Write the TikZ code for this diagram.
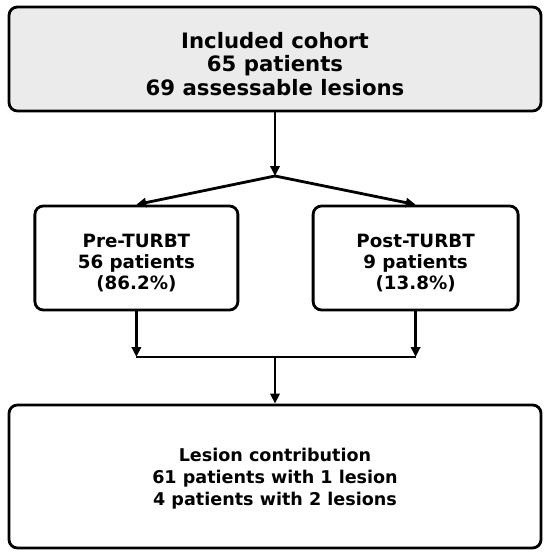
\documentclass[tikz,border=0pt]{standalone}
\usepackage{fontspec}
\setmainfont{DejaVu Sans}
\usetikzlibrary{arrows.meta,positioning,calc}

% zero-width strut that pushes the first line down a little
\newcommand{\boxdrop}[1]{\rule{0pt}{#1}}

\tikzset{
  flowbox/.style={draw=black, line width=2pt, rounded corners=6pt, align=center,
                  font=\bfseries\fontsize{13}{14.9}\selectfont, inner sep=0pt},
  flowarrow/.style={-{Triangle[length=7pt,width=6.5pt]}, line width=2pt},
  flowline/.style={line width=2pt}
}

\begin{document}
\begin{tikzpicture}
\useasboundingbox (0,0) rectangle (13.75,13.925);

\node[flowbox, fill=black!8, minimum width=13.3cm, minimum height=2.6cm,
      font=\bfseries\fontsize{15.1}{16.7}\selectfont]
  (cohort) at (6.875, 12.45) {\boxdrop{18.6pt}Included cohort\\65 patients\\69 assessable lesions};

\node[flowbox, minimum width=5.075cm, minimum height=2.6cm]
  (pre) at (3.41, 7.475) {\boxdrop{17pt}Pre-TURBT\\56 patients\\(86.2\%)};
\node[flowbox, minimum width=5.125cm, minimum height=2.6cm]
  (post) at (10.39, 7.475) {\boxdrop{17pt}Post-TURBT\\9 patients\\(13.8\%)};

\node[flowbox, minimum width=13.3cm, minimum height=3.575cm,
      font=\bfseries\fontsize{12.5}{15.6}\selectfont]
  (lesions) at (6.875, 2.0125) {\boxdrop{13pt}Lesion contribution\\61 patients with 1 lesion\\4 patients with 2 lesions};

% split and merge points
\coordinate (split) at (6.875, 9.525);
\coordinate (preend) at (pre.south |- 0,5.0);
\coordinate (postend) at (post.south |- 0,5.0);
\coordinate (merge) at (6.875, 5.0);

\draw[flowarrow] (cohort.south) -- (split);
\draw[flowarrow] (split) -- (pre.north);
\draw[flowarrow] (split) -- (post.north);

\draw[flowarrow] (pre.south) -- (preend);
\draw[flowarrow] (post.south) -- (postend);
\draw[flowline] (preend) -- (postend);
\draw[flowarrow] (merge) -- (lesions.north);
\end{tikzpicture}
\end{document}
